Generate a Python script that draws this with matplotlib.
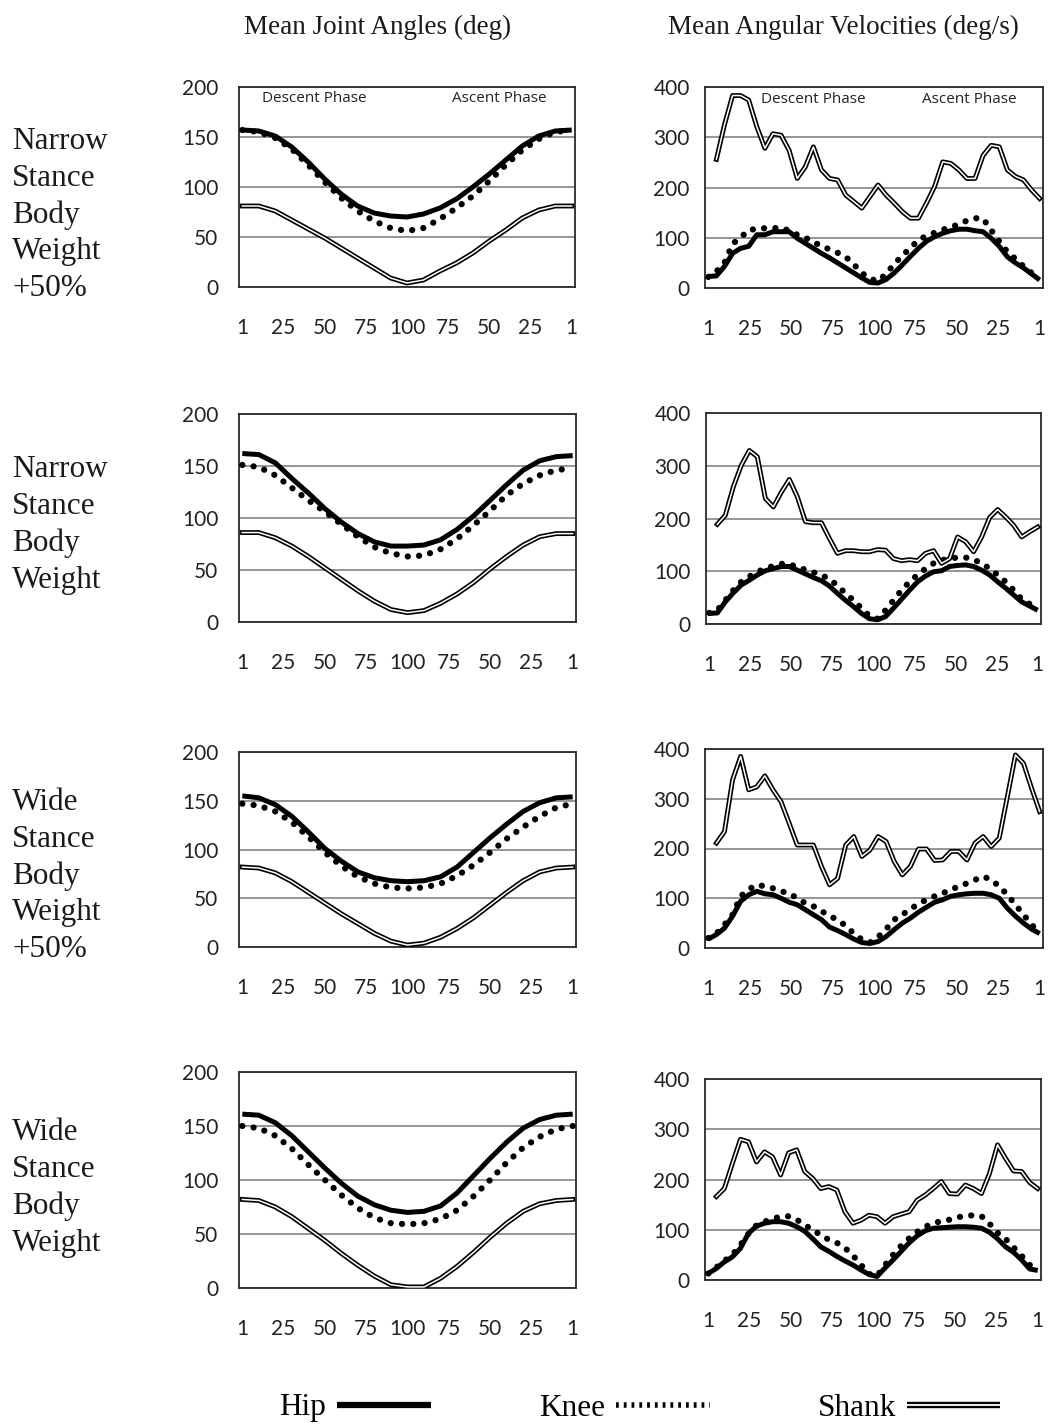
import numpy as np
import matplotlib
matplotlib.use("Agg")
import matplotlib.pyplot as plt
import matplotlib.patheffects as pe
from matplotlib.lines import Line2D

# x positions: 0 = start ("1"), 100 = bottom of squat ("100"), 200 = back to "1"
ANGLE_X = np.arange(0, 201, 10)
VEL_X = np.linspace(0, 200, 42)
TICK_POS = [0, 25, 50, 75, 100, 125, 150, 175, 200]
TICK_LABELS = ["1", "25", "50", "75", "100", "75", "50", "25", "1"]

row_labels = ["Narrow\nStance\nBody\nWeight\n+50%",
              "Narrow\nStance\nBody\nWeight",
              "Wide\nStance\nBody\nWeight\n+50%",
              "Wide\nStance\nBody\nWeight"]

# ---- mean joint angles (deg) ----
hip_ang_nbw50 = [157, 156, 151, 140, 125, 108, 93, 81, 74, 71, 70, 73, 79, 88, 100, 113, 127, 141, 151, 156, 157]
knee_ang_nbw50 = [157, 155, 149, 138, 122, 105, 89, 76, 66, 59, 56, 59, 68, 79, 91, 106, 122, 137, 148, 155, 157]
shank_ang_nbw50 = [81, 81, 76, 67, 58, 49, 39, 29, 19, 9, 4, 7, 16, 24, 34, 46, 57, 69, 77, 81, 81]

hip_ang_nbw = [162, 161, 153, 138, 124, 109, 96, 85, 77, 73, 73, 74, 79, 89, 102, 117, 132, 146, 155, 159, 160]
knee_ang_nbw = [151, 149, 141, 129, 117, 106, 94, 82, 72, 66, 63, 64, 70, 80, 93, 107, 122, 133, 141, 146, 148]
shank_ang_nbw = [86, 86, 81, 73, 63, 52, 41, 30, 20, 12, 9, 11, 18, 27, 38, 51, 63, 74, 82, 85, 85]

hip_ang_wbw50 = [155, 153, 146, 134, 118, 101, 88, 77, 71, 68, 67, 68, 72, 82, 97, 112, 126, 139, 148, 153, 154]
knee_ang_wbw50 = [147, 145, 139, 128, 113, 97, 83, 72, 65, 61, 60, 61, 65, 73, 84, 97, 111, 123, 134, 143, 147]
shank_ang_wbw50 = [82, 81, 76, 67, 56, 45, 34, 24, 14, 6, 2, 4, 10, 19, 30, 43, 56, 68, 77, 81, 82]

hip_ang_wbw = [161, 160, 153, 141, 126, 111, 97, 85, 77, 72, 70, 71, 76, 88, 104, 120, 135, 148, 156, 160, 161]
knee_ang_wbw = [150, 148, 141, 129, 114, 100, 86, 74, 65, 60, 59, 60, 64, 72, 85, 100, 116, 130, 140, 147, 150]
shank_ang_wbw = [82, 81, 75, 66, 55, 44, 32, 21, 11, 3, 1, 1, 9, 20, 33, 47, 60, 71, 78, 81, 82]

# ---- mean angular velocities (deg/s) ----
hip_vel_nbw50 = [23, 24, 43, 69, 79, 83, 106, 106, 112, 112, 112, 99, 89, 79, 69, 60, 50, 40, 30, 20, 11,
                 10, 17, 30, 46, 63, 79, 93, 102, 109, 114, 117, 117, 114, 112, 99, 83, 62, 50, 40, 28, 16]
knee_vel_nbw50 = [22, 33, 50, 88, 100, 116, 117, 119, 119, 120, 114, 106, 100, 92, 83, 77, 70, 62, 47, 30, 18,
                  14, 28, 48, 64, 80, 95, 104, 110, 116, 121, 127, 134, 139, 138, 115, 93, 72, 58, 43, 30, 20]
shank_vel_nbw50 = [256, 325, 383, 383, 374, 321, 278, 307, 304, 274, 218, 241, 281, 235, 218, 215, 185, 172, 159, 182,
                   205, 185, 169, 152, 139, 139, 169, 202, 251, 248, 235, 218, 218, 264, 284, 281, 235, 222, 215, 195, 178]

hip_vel_nbw = [20, 21, 42, 59, 74, 83, 93, 101, 105, 109, 109, 102, 95, 88, 82, 72, 58, 45, 33, 20, 10,
               8, 14, 30, 47, 64, 80, 91, 99, 101, 109, 111, 112, 109, 102, 93, 80, 68, 55, 42, 34, 26]
knee_vel_nbw = [21, 26, 45, 64, 80, 90, 99, 105, 110, 114, 114, 107, 103, 98, 93, 85, 73, 58, 45, 30, 15,
                10, 26, 45, 64, 80, 93, 105, 115, 121, 124, 126, 126, 122, 115, 105, 93, 80, 64, 47, 38, 28]
shank_vel_nbw = [189, 206, 260, 301, 329, 317, 238, 222, 250, 274, 241, 194, 192, 192, 162, 134, 139, 139, 137, 137,
                 141, 140, 124, 120, 122, 120, 134, 139, 115, 124, 165, 156, 137, 165, 202, 217, 203, 187, 165, 175, 184]

hip_vel_wbw50 = [18, 27, 40, 64, 94, 107, 114, 109, 107, 100, 92, 87, 77, 67, 57, 42, 35, 27, 18, 11, 9,
                 13, 23, 37, 50, 60, 72, 82, 92, 97, 104, 107, 109, 110, 110, 107, 100, 80, 64, 50, 38, 29]
knee_vel_wbw50 = [20, 29, 47, 67, 104, 118, 127, 124, 120, 114, 110, 100, 90, 84, 74, 65, 56, 45, 29, 17, 11,
                  22, 38, 57, 67, 78, 89, 97, 104, 110, 117, 124, 130, 137, 144, 137, 124, 107, 87, 67, 47, 29]
shank_vel_wbw50 = [211, 234, 338, 385, 318, 324, 346, 318, 294, 251, 207, 207, 207, 164, 127, 140, 207, 224, 184, 197,
                   224, 214, 174, 147, 164, 199, 199, 176, 177, 194, 194, 177, 211, 224, 204, 221, 304, 388, 371, 321, 274]

hip_vel_wbw = [13, 23, 36, 46, 63, 93, 107, 113, 116, 116, 113, 106, 97, 82, 66, 57, 47, 38, 30, 20, 11,
               7, 24, 40, 57, 74, 88, 98, 103, 104, 105, 106, 106, 105, 103, 95, 82, 66, 55, 40, 22, 19]
knee_vel_wbw = [13, 25, 38, 50, 70, 92, 109, 116, 122, 126, 127, 120, 110, 99, 90, 80, 74, 64, 49, 30, 12,
                8, 30, 50, 68, 83, 96, 106, 113, 117, 120, 125, 127, 129, 127, 112, 94, 82, 65, 48, 30, 19]
shank_vel_wbw = [166, 182, 232, 280, 275, 235, 255, 245, 209, 253, 259, 216, 202, 182, 186, 179, 136, 113, 119, 129,
                 126, 113, 126, 131, 136, 159, 169, 182, 196, 172, 171, 189, 182, 172, 212, 269, 242, 217, 216, 194, 182]

angles = [(hip_ang_nbw50, knee_ang_nbw50, shank_ang_nbw50),
          (hip_ang_nbw, knee_ang_nbw, shank_ang_nbw),
          (hip_ang_wbw50, knee_ang_wbw50, shank_ang_wbw50),
          (hip_ang_wbw, knee_ang_wbw, shank_ang_wbw)]
velocities = [(hip_vel_nbw50, knee_vel_nbw50, shank_vel_nbw50),
              (hip_vel_nbw, knee_vel_nbw, shank_vel_nbw),
              (hip_vel_wbw50, knee_vel_wbw50, shank_vel_wbw50),
              (hip_vel_wbw, knee_vel_wbw, shank_vel_wbw)]

W, H = 1050, 1425
# frame boxes in pixels (left, top, right, bottom)
left_boxes = [(239, 87, 575, 287), (239, 414, 576, 622), (239, 752, 576, 947), (239, 1072, 576, 1288)]
right_boxes = [(705, 87, 1043, 288), (706, 413, 1041, 624), (705, 749, 1043, 948), (705, 1079, 1041, 1280)]
label_centers = [215, 525, 876, 1188]

TICK_FONT = "Lato"
SERIF = "Liberation Serif"
FRAME = "#2a2a2a"
GRID = "#8c8c8c"

# double line (black outline, white core) for the shank
SHANK_FX = [pe.Stroke(linewidth=3.5, foreground="black"), pe.Normal()]


def px_axes(fig, box):
    l, t, r, b = box
    return fig.add_axes([l / W, 1 - b / H, (r - l) / W, (b - t) / H])


def draw(ax, x, hip, knee, shank, shank_x, ymax, ystep, ypad):
    ax.plot(x, hip, color="black", lw=3.6, solid_capstyle="butt", zorder=3)
    ax.plot(x, knee, color="black", lw=4.5, linestyle=(0, (0.01, 1.8)),
            dash_capstyle="round", zorder=4)
    ax.plot(shank_x, shank, color="white", lw=1.1, path_effects=SHANK_FX, zorder=5)
    ax.set_xlim(-2, 202)
    ax.set_ylim(0, ymax)
    ax.set_yticks(np.arange(0, ymax + 1, ystep))
    ax.set_xticks(TICK_POS)
    ax.set_xticklabels(TICK_LABELS)
    ax.tick_params(axis="x", length=0, pad=22, labelsize=15, labelcolor="#222222")
    ax.tick_params(axis="y", length=0, pad=ypad, labelsize=15, labelcolor="#222222")
    for lab in ax.get_xticklabels() + ax.get_yticklabels():
        lab.set_fontfamily(TICK_FONT)
    ax.yaxis.grid(True, color=GRID, lw=1.3)
    ax.set_axisbelow(True)
    for sp in ax.spines.values():
        sp.set_color(FRAME)
        sp.set_linewidth(1.3)


fig = plt.figure(figsize=(W / 100, H / 100), dpi=100)

for i in range(4):
    axl = px_axes(fig, left_boxes[i])
    h, k, s = angles[i]
    draw(axl, ANGLE_X, h, k, s, ANGLE_X, 200, 50, 15)

    axr = px_axes(fig, right_boxes[i])
    h, k, s = velocities[i]
    draw(axr, VEL_X, h, k, s, VEL_X[1:], 400, 100, 11)

    if i == 0:
        for ax, xs in ((axl, (0.224, 0.776)), (axr, (0.32, 0.783))):
            ax.text(xs[0], 0.94, "Descent Phase", transform=ax.transAxes, ha="center",
                    va="center", fontsize=11, family="Open Sans", color="#222222")
            ax.text(xs[1], 0.94, "Ascent Phase", transform=ax.transAxes, ha="center",
                    va="center", fontsize=11, family="Open Sans", color="#222222")

    fig.text(12 / W, 1 - label_centers[i] / H, row_labels[i], ha="left", va="center",
             fontsize=22.5, family=SERIF, linespacing=1.34, color="#1a1a1a")

fig.text(378 / W, 1 - 27 / H, "Mean Joint Angles (deg)", ha="center", va="center",
         fontsize=19.5, family=SERIF, color="#1a1a1a")
fig.text(843 / W, 1 - 27 / H, "Mean Angular Velocities (deg/s)", ha="center", va="center",
         fontsize=19.5, family=SERIF, color="#1a1a1a")

hip_h = Line2D([], [], color="black", lw=4.5, solid_capstyle="butt")
knee_h = Line2D([], [], color="black", lw=4.0, linestyle=(0, (0.5, 0.9)), dash_capstyle="butt")
shank_h = Line2D([], [], color="white", lw=1.3, solid_capstyle="butt",
                 path_effects=[pe.Stroke(linewidth=4.6, foreground="black"), pe.Normal()])
fig.legend([hip_h, knee_h, shank_h], ["Hip", "Knee", "Shank"], ncol=3, markerfirst=False,
           frameon=False, loc="center", bbox_to_anchor=(640 / W, 1 - 1408 / H),
           prop={"family": SERIF, "size": 22.5}, handlelength=3.0, handletextpad=0.35,
           columnspacing=3.45)

fig.savefig("out.png", dpi=100)
